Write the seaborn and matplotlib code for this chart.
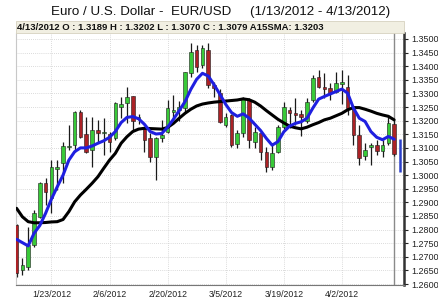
import numpy as np
import pandas as pd
import matplotlib
matplotlib.use("Agg")
import matplotlib.pyplot as plt
import seaborn as sns
from matplotlib.patches import Rectangle

# ---------------- data ----------------
dates = pd.bdate_range("2012-01-13", "2012-04-13")

opens = [1.2817, 1.2652, 1.2664, 1.2743, 1.2847, 1.2970, 1.2915, 1.3021, 1.3043, 1.3105,
         1.3111, 1.3233, 1.3150, 1.3092, 1.3166, 1.3153, 1.3150, 1.3135, 1.3250, 1.3264,
         1.3292, 1.3205, 1.3168, 1.3135, 1.3068, 1.3135, 1.3160, 1.3232, 1.3238, 1.3245,
         1.3374, 1.3460, 1.3405, 1.3460, 1.3331, 1.3300, 1.3185, 1.3221, 1.3115, 1.3153,
         1.3276, 1.3123, 1.3153, 1.3086, 1.3031, 1.3086, 1.3178, 1.3239, 1.3229, 1.3225,
         1.3197, 1.3276, 1.3362, 1.3325, 1.3319, 1.3307, 1.3335, 1.3325, 1.3246, 1.3148,
         1.3071, 1.3103, 1.3111, 1.3087, 1.3117, 1.3189]
highs = [1.2822, 1.2694, 1.2811, 1.2872, 1.2976, 1.2988, 1.3055, 1.3055, 1.3123, 1.3184,
         1.3235, 1.3239, 1.3215, 1.3215, 1.3202, 1.3209, 1.3160, 1.3270, 1.3288, 1.3325,
         1.3292, 1.3225, 1.3178, 1.3154, 1.3141, 1.3203, 1.3276, 1.3294, 1.3272, 1.3380,
         1.3486, 1.3478, 1.3478, 1.3484, 1.3343, 1.3318, 1.3227, 1.3225, 1.3166, 1.3288,
         1.3283, 1.3178, 1.3160, 1.3104, 1.3117, 1.3184, 1.3270, 1.3251, 1.3282, 1.3240,
         1.3282, 1.3368, 1.3387, 1.3374, 1.3338, 1.3380, 1.3385, 1.3368, 1.3252, 1.3185,
         1.3117, 1.3117, 1.3130, 1.3130, 1.3221, 1.3202]
lows = [1.2626, 1.2633, 1.2650, 1.2737, 1.2841, 1.2890, 1.2860, 1.2945, 1.2970, 1.3092,
        1.3086, 1.3135, 1.3080, 1.3031, 1.3117, 1.3074, 1.3085, 1.3129, 1.3209, 1.3190,
        1.3166, 1.3188, 1.3086, 1.3050, 1.2982, 1.3123, 1.3154, 1.3209, 1.3200, 1.3227,
        1.3362, 1.3380, 1.3392, 1.3319, 1.3288, 1.3190, 1.3178, 1.3105, 1.3098, 1.3141,
        1.3100, 1.3098, 1.3055, 1.3012, 1.3019, 1.3080, 1.3170, 1.3172, 1.3184, 1.3142,
        1.3190, 1.3270, 1.3319, 1.3283, 1.3276, 1.3300, 1.3260, 1.3221, 1.3111, 1.3038,
        1.3056, 1.3038, 1.3074, 1.3068, 1.3111, 1.3070]
closes = [1.2640, 1.2670, 1.2743, 1.2862, 1.2972, 1.2939, 1.3031, 1.3031, 1.3107, 1.3108,
          1.3233, 1.3141, 1.3086, 1.3166, 1.3153, 1.3157, 1.3120, 1.3264, 1.3262, 1.3288,
          1.3197, 1.3212, 1.3129, 1.3068, 1.3135, 1.3147, 1.3245, 1.3240, 1.3250, 1.3380,
          1.3453, 1.3398, 1.3466, 1.3331, 1.3319, 1.3196, 1.3215, 1.3111, 1.3153, 1.3282,
          1.3129, 1.3160, 1.3086, 1.3031, 1.3080, 1.3178, 1.3251, 1.3227, 1.3220, 1.3215,
          1.3270, 1.3356, 1.3325, 1.3316, 1.3301, 1.3340, 1.3342, 1.3246, 1.3148, 1.3062,
          1.3093, 1.3110, 1.3087, 1.3111, 1.3191, 1.3079]
sma_short = [1.2764, 1.2752, 1.2740, 1.2786, 1.2815, 1.2860, 1.2912, 1.2957, 1.3000, 1.3055,
             1.3086, 1.3100, 1.3100, 1.3107, 1.3117, 1.3126, 1.3139, 1.3160, 1.3193, 1.3212,
             1.3215, 1.3207, 1.3187, 1.3160, 1.3151, 1.3153, 1.3176, 1.3205, 1.3237, 1.3270,
             1.3315, 1.3352, 1.3374, 1.3364, 1.3332, 1.3297, 1.3260, 1.3230, 1.3216, 1.3225,
             1.3210, 1.3187, 1.3164, 1.3135, 1.3110, 1.3123, 1.3159, 1.3180, 1.3190, 1.3196,
             1.3209, 1.3246, 1.3279, 1.3289, 1.3298, 1.3307, 1.3316, 1.3301, 1.3246, 1.3209,
             1.3197, 1.3160, 1.3139, 1.3130, 1.3142, 1.3132]
sma15 = [1.2878, 1.2847, 1.2829, 1.2825, 1.2825, 1.2826, 1.2828, 1.2829, 1.2837, 1.2866,
         1.2902, 1.2927, 1.2948, 1.2970, 1.2994, 1.3025, 1.3055, 1.3080, 1.3117, 1.3141,
         1.3160, 1.3169, 1.3172, 1.3171, 1.3170, 1.3169, 1.3175, 1.3190, 1.3209, 1.3227,
         1.3242, 1.3254, 1.3261, 1.3265, 1.3268, 1.3270, 1.3272, 1.3274, 1.3276, 1.3280,
         1.3277, 1.3268, 1.3254, 1.3237, 1.3221, 1.3205, 1.3192, 1.3180, 1.3174, 1.3170,
         1.3176, 1.3185, 1.3193, 1.3203, 1.3209, 1.3218, 1.3227, 1.3240, 1.3248, 1.3248,
         1.3242, 1.3235, 1.3227, 1.3221, 1.3216, 1.3203]
marker_range = [1.3012, 1.3132]   # blue bar right of last candle

tick_idx = [6, 16, 26, 36, 46, 56]
tick_labels = ["1/23/2012", "2/6/2012", "2/20/2012", "3/5/2012", "3/19/2012", "4/2/2012"]
y_ticks = [1.26 + 0.005 * k for k in range(19)]

title = "Euro / U.S. Dollar -  EUR/USD     (1/13/2012 - 4/13/2012)"
header = "4/13/2012 O : 1.3189 H : 1.3202 L : 1.3070 C : 1.3079 A15SMA: 1.3203"

# ---------------- figure ----------------
sns.set_style("white")
plt.rcParams["font.family"] = ["Liberation Sans", "DejaVu Sans"]

W, H = 439, 299
fig = plt.figure(figsize=(W / 100, H / 100), dpi=100)
ax = fig.add_axes([16 / W, 1 - 285 / H, (404 - 16) / W, (285 - 33) / H])

idx = np.arange(len(dates))
df = pd.DataFrame({"i": idx, "open": opens, "high": highs, "low": lows,
                   "close": closes, "sma5": sma_short, "sma15": sma15})

# grid
for yv in y_ticks:
    ax.axhline(yv, color="#cfcfcf", lw=0.6, ls=(0, (1, 1.5)), zorder=0)
for xv in tick_idx:
    ax.axvline(xv, color="#cfcfcf", lw=0.6, ls=(0, (1, 1.5)), zorder=0)

# crosshair at last date
ax.axvline(len(dates) - 1, color="#8a8a8a", lw=1.0, zorder=1)

# candles
green, red = "#38c938", "#ab2226"
up = df["close"] >= df["open"]
ax.vlines(df["i"], df["low"], df["high"], color="#1a1a1a", lw=0.9, zorder=2)
body_bottom = np.minimum(df["open"], df["close"])
body_h = np.maximum(np.abs(df["close"] - df["open"]), 0.00018)
ax.bar(df["i"], body_h, bottom=body_bottom, width=0.62,
       color=np.where(up, green, red), edgecolor="#1a1a1a", linewidth=0.4, zorder=3)

# moving averages
sns.lineplot(data=df, x="i", y="sma15", color="black", lw=2.2, ax=ax, zorder=4)
sns.lineplot(data=df, x="i", y="sma5", color="#1f1fe0", lw=2.2, ax=ax, zorder=5)

# blue marker bar after last candle
ax.vlines([len(dates)], marker_range[0], marker_range[1], color="#2b3fc8", lw=1.8, zorder=5)

ax.set_xlim(-0.1, 66.7)
ax.set_ylim(1.25964, 1.3522)
ax.set_xlabel("")
ax.set_ylabel("")

ax.set_xticks(tick_idx)
ax.set_xticklabels(tick_labels, fontsize=6.3, color="#222222")
ax.yaxis.tick_right()
ax.set_yticks(y_ticks)
ax.set_yticklabels([f"{v:.4f}" for v in y_ticks], fontsize=6.5, color="#222222")
ax.tick_params(axis="y", direction="out", length=3, width=0.8, pad=2, colors="#222222")
ax.tick_params(axis="x", direction="out", length=2, width=0.6, pad=1.5, colors="#222222")

ax.spines["top"].set_visible(False)
ax.spines["left"].set_color("#c8c8c8")
ax.spines["left"].set_linewidth(0.8)
ax.spines["bottom"].set_color("#777777")
ax.spines["bottom"].set_linewidth(0.8)
ax.spines["right"].set_color("#333333")
ax.spines["right"].set_linewidth(1.8)

# header box
fig.patches.append(Rectangle((16 / W, 1 - 33 / H), (404 - 16) / W, 12 / H,
                             transform=fig.transFigure, facecolor="#f1efe2",
                             edgecolor="#d6d2bf", lw=0.6, zorder=0))
fig.text(17 / W, 1 - 27.5 / H, header, fontsize=6.8, fontweight="bold",
         ha="left", va="center", color="#111111")

fig.text(221 / W, 1 - 12.5 / H, title, fontsize=9.6, ha="center", va="center", color="#111111")

fig.savefig("out.png", dpi=100, facecolor="white")
